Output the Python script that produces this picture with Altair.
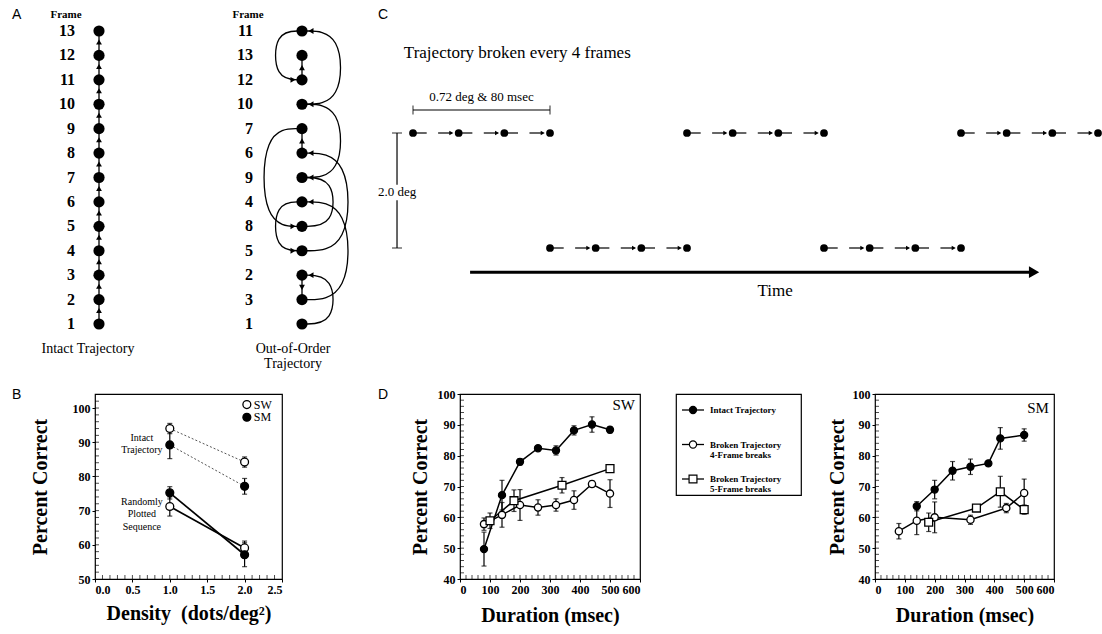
import altair as alt
import pandas as pd

SERIF = "Liberation Serif"
SANS = "Liberation Sans"

# ---------------- Panel A: frame order, bottom to top ----------------
intact_order = [1, 2, 3, 4, 5, 6, 7, 8, 9, 10, 11, 12, 13]
shuffled_order = [1, 3, 2, 5, 8, 4, 9, 6, 7, 10, 12, 13, 11]

# ---------------- Panel C: 4-frame segments alternating rows ----------------
segment_rows = [0, 1, 0, 1, 0]
frames_per_segment = 4

# ---------------- Panel B: percent correct vs density ----------------
density = [1.0, 2.0]
b_sw_intact = [94.0, 84.2]
b_sw_intact_err = [1.5, 1.5]
b_sm_intact = [89.2, 77.1]
b_sm_intact_err = [4.0, 2.3]
b_sw_random = [71.2, 59.1]
b_sw_random_err = [2.8, 2.0]
b_sm_random = [75.2, 57.1]
b_sm_random_err = [1.8, 3.5]

# ---------------- Panel D: percent correct vs duration ----------------
sw_intact_ms = [80, 140, 200, 260, 320, 380, 440, 500]
sw_intact = [49.7, 67.2, 78.0, 82.4, 81.7, 88.2, 90.1, 88.4]
sw_intact_err = [5.5, 4.8, 1.0, 0.8, 1.5, 1.5, 2.5, 1.0]
sw_four_ms = [80, 140, 200, 260, 320, 380, 440, 500]
sw_four = [57.8, 60.8, 64.0, 63.2, 64.0, 65.6, 70.8, 67.7]
sw_four_err = [2.0, 4.0, 5.0, 2.5, 2.0, 3.0, 1.0, 4.5]
sw_five_ms = [100, 180, 340, 500]
sw_five = [58.9, 65.4, 70.4, 75.8]
sw_five_err = [2.5, 3.5, 2.5, 1.0]

sm_intact_ms = [140, 200, 260, 320, 380, 420, 500]
sm_intact = [63.6, 69.0, 75.1, 76.4, 77.5, 85.6, 86.7]
sm_intact_err = [1.5, 3.0, 3.0, 2.5, 0.5, 3.5, 2.0]
sm_four_ms = [80, 140, 200, 320, 440, 500]
sm_four = [55.5, 58.9, 60.0, 59.2, 63.0, 67.9]
sm_four_err = [2.5, 4.5, 5.0, 1.5, 1.5, 4.5]
sm_five_ms = [180, 340, 420, 500]
sm_five = [58.4, 63.0, 68.3, 62.5]
sm_five_err = [3.0, 0.8, 5.0, 1.5]

conditions = ["intact", "four", "five"]
legend_labels = ["Intact Trajectory",
                 "Broken Trajectory\n4-Frame breaks",
                 "Broken Trajectory\n5-Frame breaks"]

# marker style per condition / subject
cond_shape = {"intact": "circle", "four": "circle", "five": "square"}
cond_fill = {"intact": "black", "four": "white", "five": "white"}
cond_size = {"intact": 50, "four": 52, "five": 62}
subject_fill = {"SW": "white", "SM": "black"}

# tick positions
b_x_ticks = [0.0, 0.5, 1.0, 1.5, 2.0, 2.5]
b_y_ticks = [50, 60, 70, 80, 90, 100]
b_x_minor = [i / 10 for i in range(1, 25)]
b_y_minor = list(range(52, 104, 2))
d_x_ticks = [0, 100, 200, 300, 400, 500, 600]
d_y_ticks = [40, 50, 60, 70, 80, 90, 100]
d_x_minor = list(range(20, 600, 20))
d_y_minor = list(range(42, 100, 2))

FRAME = alt.ViewBackground(stroke="black", strokeWidth=1.2)


def letter(ch, x, y):
    return alt.Chart(pd.DataFrame({"t": [ch]})).mark_text(
        font=SANS, fontSize=14, align="left", baseline="middle", color="black"
    ).encode(text="t:N", x=alt.value(x), y=alt.value(y))


# =========================== Panel A ===========================
A_COLS = [99, 302]
A_ROWS = [324, 31]
ax = alt.Scale(domain=[0, 1], range=A_COLS, nice=False, zero=False)
ay = alt.Scale(domain=[0, 12], range=A_ROWS, nice=False, zero=False)
PX = 1.0 / (A_COLS[1] - A_COLS[0])       # column units per pixel
PY = 12.0 / (A_ROWS[0] - A_ROWS[1])      # row units per pixel

dots = pd.DataFrame(
    [{"col": 0, "row": i, "frame": f} for i, f in enumerate(intact_order)]
    + [{"col": 1, "row": i, "frame": f} for i, f in enumerate(shuffled_order)]
)

stems, heads, arcs = [], [], []
for f in intact_order[:-1]:
    r1, r2 = intact_order.index(f), intact_order.index(f + 1)
    stems.append({"x": 0, "y0": r1, "y1": r2})
    heads.append({"x": 0, "y": (r1 + r2) / 2 + 0.05, "shape": "triangle-up"})
for f in range(1, len(shuffled_order)):
    r1, r2 = shuffled_order.index(f), shuffled_order.index(f + 1)
    span = abs(r2 - r1)
    if span == 1:
        stems.append({"x": 1, "y0": r1, "y1": r2})
        heads.append({"x": 1, "y": (r1 + r2) / 2,
                      "shape": "triangle-up" if r2 > r1 else "triangle-down"})
    else:
        side = 1 if r2 > r1 else -1
        bulge = (14 + 6.5 * span) if side > 0 else (13 + 5 * span)
        reach = 1.2 * bulge * PX * side
        for k, (dx, r) in enumerate([(0, r1), (reach, r1), (reach, r2), (0, r2)]):
            arcs.append({"id": f, "k": k, "x": 1 + dx, "y": r})
        heads.append({"x": 1 + side * 9 * PX, "y": r2,
                      "shape": "triangle-left" if side > 0 else "triangle-right"})

a_text = pd.DataFrame([
    {"x": 0 - 33 * PX, "y": 12 + 16 * PY, "t": "Frame"},
    {"x": 1 - 54 * PX, "y": 12 + 16 * PY, "t": "Frame"},
])
a_caption = pd.DataFrame([
    {"x": 0 - 11 * PX, "y": 0 - 18 * PY, "t": "Intact Trajectory"},
    {"x": 1 - 9 * PX, "y": 0 - 18 * PY, "t": "Out-of-Order\nTrajectory"},
])


def AX(f):
    return alt.X(f"{f}:Q", scale=ax, axis=None)


def AY(f):
    return alt.Y(f"{f}:Q", scale=ay, axis=None)


panel_a = alt.layer(
    alt.Chart(pd.DataFrame(stems)).mark_rule(color="black", strokeWidth=1.3).encode(
        x=AX("x"), y=AY("y0"), y2="y1:Q"),
    alt.Chart(pd.DataFrame(arcs)).mark_line(
        interpolate="basis", color="black", strokeWidth=1.3).encode(
        x=AX("x"), y=AY("y"), detail="id:N", order="k:Q"),
    alt.Chart(dots).mark_circle(size=125, color="black", opacity=1).encode(
        x=AX("col"), y=AY("row")),
    alt.Chart(pd.DataFrame(heads)).mark_point(
        filled=True, color="black", size=34, opacity=1).encode(
        x=AX("x"), y=AY("y"), shape=alt.Shape("shape:N", scale=None)),
    alt.Chart(dots[dots.col == 0]).mark_text(
        align="right", baseline="middle", dx=-24, font=SERIF, fontSize=16,
        fontWeight="bold", color="black").encode(
        x=AX("col"), y=AY("row"), text="frame:N"),
    alt.Chart(dots[dots.col == 1]).mark_text(
        align="right", baseline="middle", dx=-49, font=SERIF, fontSize=16,
        fontWeight="bold", color="black").encode(
        x=AX("col"), y=AY("row"), text="frame:N"),
    alt.Chart(a_text).mark_text(
        align="center", baseline="middle", font=SERIF, fontSize=11,
        fontWeight="bold", color="black").encode(
        x=AX("x"), y=AY("y"), text="t:N"),
    alt.Chart(a_caption).mark_text(
        align="center", baseline="top", font=SERIF, fontSize=14, lineBreak="\n",
        lineHeight=15, color="black").encode(
        x=AX("x"), y=AY("y"), text="t:N"),
    letter("A", 12, 15),
).properties(width=375, height=375)

# =========================== Panel C ===========================
cx = alt.Scale(domain=[0, 15], range=[38, 723], nice=False, zero=False)
cy = alt.Scale(domain=[0, 1], range=[133, 248], nice=False, zero=False)

frames_c, dashes, c_heads = [], [], []
for s, r in enumerate(segment_rows):
    for k in range(frames_per_segment):
        t = (frames_per_segment - 1) * s + k
        frames_c.append({"t": t, "row": r})
        if k < frames_per_segment - 1:
            dashes.append({"t0": t, "t1": t + 0.3, "row": r})
            dashes.append({"t0": t + 0.55, "t1": t + 0.85, "row": r})
            c_heads.append({"t": t + 0.84, "row": r})

scale_bars = pd.DataFrame([
    {"t0": 0, "t1": 3, "r0": -0.2, "r1": -0.2},
    {"t0": -0.35, "t1": -0.35, "r0": 0, "r1": 0.45},
    {"t0": -0.35, "t1": -0.35, "r0": 0.585, "r1": 1},
])
v_caps = pd.DataFrame({"t": [0, 3], "row": [-0.2, -0.2]})
h_caps = pd.DataFrame({"t": [-0.35, -0.35], "row": [0, 1]})
c_text = pd.DataFrame([
    {"t": 1.5, "row": -0.31, "s": "0.72 deg & 80 msec", "size": 13},
    {"t": -0.35, "row": 0.515, "s": "2.0 deg", "size": 13},
    {"t": 7.93, "row": 1.37, "s": "Time", "size": 17},
])


def CX(f):
    return alt.X(f"{f}:Q", scale=cx, axis=None)


def CY(f):
    return alt.Y(f"{f}:Q", scale=cy, axis=None)


panel_c = alt.layer(
    alt.Chart(pd.DataFrame(dashes)).mark_rule(color="black", strokeWidth=1.2).encode(
        x=CX("t0"), x2="t1:Q", y=CY("row")),
    alt.Chart(pd.DataFrame(c_heads)).mark_point(
        shape="triangle-right", filled=True, color="black", size=22, opacity=1).encode(
        x=CX("t"), y=CY("row")),
    alt.Chart(pd.DataFrame(frames_c)).mark_circle(size=60, color="black", opacity=1).encode(
        x=CX("t"), y=CY("row")),
    alt.Chart(scale_bars).mark_rule(color="black", strokeWidth=1.2).encode(
        x=CX("t0"), x2="t1:Q", y=CY("r0"), y2="r1:Q"),
    alt.Chart(v_caps).mark_tick(orient="vertical", size=9, thickness=1.2, color="black").encode(
        x=CX("t"), y=CY("row")),
    alt.Chart(h_caps).mark_tick(orient="horizontal", size=10, thickness=1.2, color="black").encode(
        x=CX("t"), y=CY("row")),
    alt.Chart(pd.DataFrame({"t0": [1.25], "t1": [13.5], "row": [1.21]})).mark_rule(
        color="black", strokeWidth=3).encode(x=CX("t0"), x2="t1:Q", y=CY("row")),
    alt.Chart(pd.DataFrame({"t": [13.6], "row": [1.21]})).mark_point(
        shape="triangle-right", filled=True, color="black", size=140, opacity=1).encode(
        x=CX("t"), y=CY("row")),
    alt.Chart(c_text).mark_text(
        align="center", baseline="middle", font=SERIF, color="black").encode(
        x=CX("t"), y=CY("row"), text="s:N",
        size=alt.Size("size:Q", scale=None, legend=None)),
    alt.Chart(pd.DataFrame({"t": [-0.2], "row": [-0.7],
                            "s": ["Trajectory broken every 4 frames"]})).mark_text(
        align="left", baseline="middle", font=SERIF, fontSize=17, color="black").encode(
        x=CX("t"), y=CY("row"), text="s:N"),
    letter("C", 3, 15),
).properties(width=727, height=375)

# =========================== Panel B ===========================
b_rows = []
for subj, cond, vals, errs in [
    ("SW", "intact", b_sw_intact, b_sw_intact_err),
    ("SM", "intact", b_sm_intact, b_sm_intact_err),
    ("SW", "random", b_sw_random, b_sw_random_err),
    ("SM", "random", b_sm_random, b_sm_random_err),
]:
    for d, v, e in zip(density, vals, errs):
        b_rows.append({"density": d, "pct": v, "lo": v - e, "hi": v + e,
                       "subject": subj, "cond": cond, "fill": subject_fill[subj]})
b_df = pd.DataFrame(b_rows)
b_caps = pd.concat([
    b_df[["density", "lo"]].rename(columns={"lo": "y"}),
    b_df[["density", "hi"]].rename(columns={"hi": "y"}),
])

bx = alt.Scale(domain=[0, 2.5], nice=False, zero=False)
by = alt.Scale(domain=[50, 104.1], nice=False, zero=False)
b_x_axis = alt.Axis(values=b_x_ticks, format=".1f",
                    title="Density\u00a0\u00a0(dots/deg²)",
                    titleBaseline="middle", titleY=34)
b_y_axis = alt.Axis(values=b_y_ticks, format="d", title="Percent Correct",
                    titleBaseline="middle", titleX=-55, titleY=92.5)


def BX(f):
    return alt.X(f"{f}:Q", scale=bx, axis=b_x_axis)


def BY(f):
    return alt.Y(f"{f}:Q", scale=by, axis=b_y_axis)


b_key = pd.DataFrame({"subject": ["SW", "SM"], "x": [2.03, 2.03], "y": [101.0, 97.3],
                      "fill": [subject_fill["SW"], subject_fill["SM"]]})
b_notes = pd.DataFrame([
    {"x": 0.627, "y": 91.3, "t": "Intact\nTrajectory"},
    {"x": 0.627, "y": 72.6, "t": "Randomly\nPlotted\nSequence"},
])

panel_b = alt.layer(
    alt.Chart(b_df[b_df.cond == "intact"]).mark_line(
        color="#555555", strokeWidth=1, strokeDash=[2, 2]).encode(
        x=BX("density"), y=BY("pct"), detail="subject:N"),
    alt.Chart(b_df[b_df.cond == "random"]).mark_line(color="black", strokeWidth=1.7).encode(
        x=BX("density"), y=BY("pct"), detail="subject:N"),
    alt.Chart(b_df).mark_rule(color="black", strokeWidth=1.2).encode(
        x=BX("density"), y=BY("lo"), y2="hi:Q"),
    alt.Chart(b_caps).mark_tick(orient="horizontal", size=5, thickness=1.2, color="black").encode(
        x=BX("density"), y=BY("y")),
    alt.Chart(b_df).mark_point(shape="circle", filled=True, size=62, stroke="black",
                               strokeWidth=1.3, opacity=1).encode(
        x=BX("density"), y=BY("pct"), fill=alt.Fill("fill:N", scale=None)),
    alt.Chart(b_key).mark_point(shape="circle", filled=True, size=62, stroke="black",
                                strokeWidth=1.3, opacity=1).encode(
        x=BX("x"), y=BY("y"), fill=alt.Fill("fill:N", scale=None)),
    alt.Chart(b_key).mark_text(align="left", baseline="middle", dx=7, font=SERIF,
                               fontSize=12, color="black").encode(
        x=BX("x"), y=BY("y"), text="subject:N"),
    alt.Chart(b_notes).mark_text(align="center", baseline="middle", font=SERIF,
                                 fontSize=10, lineBreak="\n", lineHeight=12.5,
                                 color="black").encode(
        x=BX("x"), y=BY("y"), text="t:N"),
    alt.Chart(pd.DataFrame({"v": b_x_minor, "base": 50})).mark_tick(
        orient="vertical", size=4, thickness=1, color="black", yOffset=-2).encode(
        x=BX("v"), y=BY("base")),
    alt.Chart(pd.DataFrame({"v": b_y_minor, "base": 0.0})).mark_tick(
        orient="horizontal", size=4, thickness=1, color="black", xOffset=2).encode(
        y=BY("v"), x=BX("base")),
).properties(width=187, height=185, view=FRAME)

# =========================== Panel D ===========================
dx_scale = alt.Scale(domain=[0, 600], nice=False, zero=False)
dy_scale = alt.Scale(domain=[40, 100], nice=False, zero=False)


def duration_panel(series, name, title_x, name_y, width):
    rows = []
    for cond, ms, vals, errs in series:
        for m, v, e in zip(ms, vals, errs):
            rows.append({"ms": m, "pct": v, "lo": v - e, "hi": v + e, "cond": cond,
                         "shape": cond_shape[cond], "fill": cond_fill[cond],
                         "size": cond_size[cond]})
    df = pd.DataFrame(rows)
    caps = pd.concat([
        df[["ms", "lo"]].rename(columns={"lo": "y"}),
        df[["ms", "hi"]].rename(columns={"hi": "y"}),
    ])
    x_axis = alt.Axis(values=d_x_ticks, format="d", title="Duration (msec)",
                      titleBaseline="middle", titleY=36)
    y_axis = alt.Axis(values=d_y_ticks, format="d", title="Percent Correct",
                      titleBaseline="middle", titleX=title_x, titleY=92.5)

    def X(f):
        return alt.X(f"{f}:Q", scale=dx_scale, axis=x_axis)

    def Y(f):
        return alt.Y(f"{f}:Q", scale=dy_scale, axis=y_axis)

    return alt.layer(
        alt.Chart(df).mark_line(color="black", strokeWidth=1.5).encode(
            x=X("ms"), y=Y("pct"), detail="cond:N"),
        alt.Chart(df).mark_rule(color="black", strokeWidth=1.2).encode(
            x=X("ms"), y=Y("lo"), y2="hi:Q"),
        alt.Chart(caps).mark_tick(orient="horizontal", size=5, thickness=1.2,
                                  color="black").encode(x=X("ms"), y=Y("y")),
        alt.Chart(df).mark_point(filled=True, stroke="black", strokeWidth=1.3,
                                 opacity=1).encode(
            x=X("ms"), y=Y("pct"),
            shape=alt.Shape("shape:N", scale=None),
            fill=alt.Fill("fill:N", scale=None),
            size=alt.Size("size:Q", scale=None)),
        alt.Chart(pd.DataFrame({"ms": [583], "pct": [name_y], "t": [name]})).mark_text(
            align="right", baseline="middle", font=SERIF, fontSize=15,
            color="black").encode(x=X("ms"), y=Y("pct"), text="t:N"),
        alt.Chart(pd.DataFrame({"v": d_x_minor, "base": 40})).mark_tick(
            orient="vertical", size=4, thickness=1, color="black", yOffset=-2).encode(
            x=X("v"), y=Y("base")),
        alt.Chart(pd.DataFrame({"v": d_y_minor, "base": 0})).mark_tick(
            orient="horizontal", size=4, thickness=1, color="black", xOffset=2).encode(
            y=Y("v"), x=X("base")),
    ).properties(width=width, height=185, view=FRAME)


panel_sw = duration_panel([
    ("intact", sw_intact_ms, sw_intact, sw_intact_err),
    ("four", sw_four_ms, sw_four, sw_four_err),
    ("five", sw_five_ms, sw_five, sw_five_err),
], "SW", -40, 96.4, 180)

panel_sm = duration_panel([
    ("intact", sm_intact_ms, sm_intact, sm_intact_err),
    ("four", sm_four_ms, sm_four, sm_four_err),
    ("five", sm_five_ms, sm_five, sm_five_err),
], "SM", -38, 95.6, 179)

# legend box shared by both duration panels
leg_df = pd.DataFrame({"label": legend_labels, "r": [0, 1, 2],
                       "shape": [cond_shape[c] for c in conditions],
                       "fill": [cond_fill[c] for c in conditions],
                       "size": [cond_size[c] for c in conditions]})
ly = alt.Scale(domain=[0, 2], range=[16, 85], nice=False, zero=False)
legend_box = alt.layer(
    alt.Chart(leg_df).mark_rule(color="black", strokeWidth=1.3).encode(
        x=alt.value(6), x2=alt.value(28), y=alt.Y("r:Q", scale=ly, axis=None)),
    alt.Chart(leg_df).mark_point(filled=True, stroke="black", strokeWidth=1.2,
                                 opacity=1).encode(
        x=alt.value(17), y=alt.Y("r:Q", scale=ly, axis=None),
        shape=alt.Shape("shape:N", scale=None),
        fill=alt.Fill("fill:N", scale=None),
        size=alt.Size("size:Q", scale=None)),
    alt.Chart(leg_df).mark_text(align="left", baseline="middle", font=SERIF,
                                fontSize=9, fontWeight="bold", lineBreak="\n",
                                lineHeight=10, color="black").encode(
        x=alt.value(34), y=alt.Y("r:Q", scale=ly, axis=None), text="label:N"),
).properties(width=125, height=101, view=FRAME)


def spacer(width, ch="", x=0):
    return letter(ch, x, 1).properties(width=width, height=185)


top_row = alt.hconcat(panel_a, panel_c, spacing=0, bounds="flush")
bottom_row = alt.hconcat(
    spacer(95, "B", 12), panel_b, spacer(178, "D", 96), panel_sw,
    spacer(36), legend_box, spacer(74), panel_sm,
    spacing=0, bounds="flush",
)

chart = alt.vconcat(top_row, bottom_row, spacing=12).properties(
    padding=0, background="white"
).configure_view(strokeWidth=0).configure_axis(
    labelFont=SERIF, labelFontWeight="bold", labelFontSize=12, labelColor="black",
    tickColor="black", tickSize=3, tickWidth=1, labelPadding=2,
    titleFont=SERIF, titleFontWeight="bold", titleFontSize=20, titleColor="black",
    grid=False, domain=False,
)

chart.save("out.html", embed_options={"renderer": "svg", "actions": False})
